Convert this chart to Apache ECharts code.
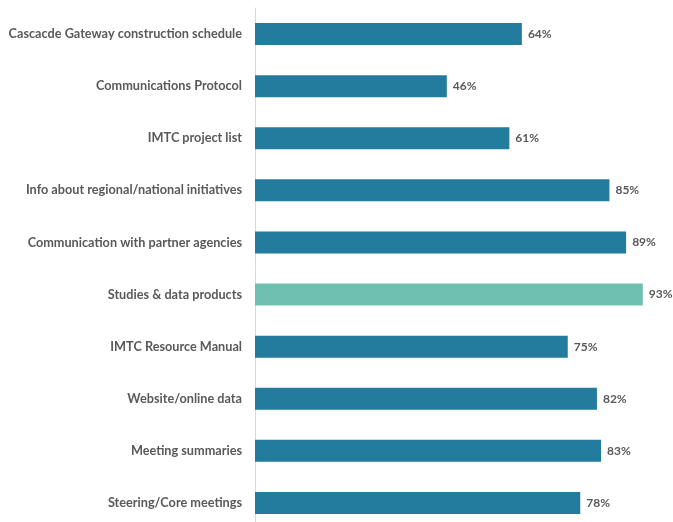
<!DOCTYPE html>
<html>
<head>
<meta charset="utf-8">
<script src="https://cdn.jsdelivr.net/npm/echarts@6/dist/echarts.min.js"></script>
<style>
  html, body { margin: 0; padding: 0; background: #fff; }
  #chart { width: 673px; height: 522px; }
</style>
</head>
<body>
<div id="chart"></div>
<script>
// top to bottom order as shown
const categories = [
  'Cascacde Gateway construction schedule',
  'Communications Protocol',
  'IMTC project list',
  'Info about regional/national initiatives',
  'Communication with partner agencies',
  'Studies & data products',
  'IMTC Resource Manual',
  'Website/online data',
  'Meeting summaries',
  'Steering/Core meetings'
];
const values = [64, 46, 61, 85, 89, 93, 75, 82, 83, 78];
const highlight = 'Studies & data products';

const barColor = '#237b9d';
const highlightColor = '#6fc0b0';
const textFont = 'Lato, Roboto, sans-serif';

const chart = echarts.init(document.getElementById('chart'));

chart.setOption({
  animation: false,
  grid: { left: 255, right: 1, top: 8, bottom: -7, outerBoundsMode: 'none' },
  xAxis: {
    type: 'value',
    min: 0,
    max: 100,
    show: false
  },
  yAxis: {
    type: 'category',
    inverse: true,
    data: categories,
    axisLine: { show: true, lineStyle: { color: '#d9d9d9', width: 1 } },
    axisTick: { show: false },
    axisLabel: {
      margin: 13,
      color: '#595959',
      fontFamily: textFont,
      fontWeight: 'bold',
      fontSize: 12.7
    }
  },
  series: [{
    type: 'bar',
    barWidth: 22,
    data: values.map((v, i) => ({
      value: v,
      itemStyle: { color: categories[i] === highlight ? highlightColor : barColor }
    })),
    label: {
      show: true,
      position: 'right',
      distance: 6,
      formatter: '{c}%',
      color: '#595959',
      fontFamily: textFont,
      fontWeight: 'bold',
      fontSize: 12
    }
  }]
});
</script>
</body>
</html>
